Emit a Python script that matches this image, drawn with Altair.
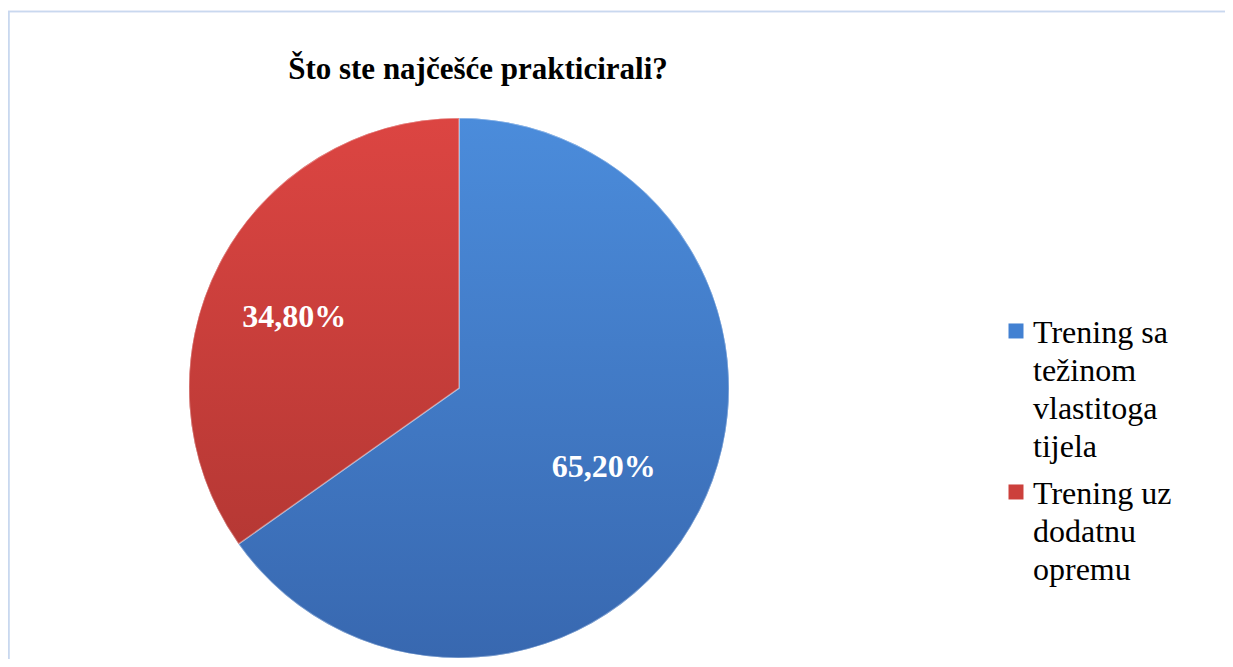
import altair as alt
import pandas as pd

categories = ["Trening sa težinom vlastitoga tijela", "Trening uz dodatnu opremu"]
values = [65.2, 34.8]
colors = ["#4281D2", "#CC403C"]
grad_top = ["#4B8CDB", "#DC4542"]
grad_bot = ["#3868B0", "#B63834"]
title_text = "Što ste najčešće prakticirali?"
SERIF = "Liberation Serif, Times New Roman, serif"

df = pd.DataFrame({"kat": categories, "vrijednost": values, "order": [0, 1]})

W, H = 1217, 651
CX, CY, R = 451, 380, 270

base = alt.Chart(df).transform_joinaggregate(
    total="sum(vrijednost)"
).transform_window(
    cum="sum(vrijednost)", sort=[alt.SortField("order")]
).transform_calculate(
    t1="datum.cum / datum.total * 2 * PI",
    t0="(datum.cum - datum.vrijednost) / datum.total * 2 * PI",
    tm="(datum.cum - datum.vrijednost / 2) / datum.total * 2 * PI - 0.026",
    lbl="replace(format(datum.vrijednost / 100, '.2%'), '.', ',')",
)

label_expr = ("datum.label == 'Trening sa težinom vlastitoga tijela' ? "
              "['Trening sa','težinom','vlastitoga','tijela'] : "
              "['Trening uz','dodatnu','opremu']")

color_enc = alt.Color(
    "kat:N",
    scale=alt.Scale(domain=categories, range=colors),
    sort=categories,
    legend=alt.Legend(
        title=None,
        orient="none",
        legendX=992,
        legendY=294,
        symbolType="M-1,0.73L1,0.73L1,2.73L-1,2.73Z",
        symbolSize=225,
        symbolStrokeWidth=0,
        labelFont=SERIF,
        labelFontSize=32,
        labelColor="#000000",
        labelLimit=400,
        labelBaseline="top",
        labelOffset=1,
        labelExpr=label_expr,
        rowPadding=-4,
    ),
)

pie_base = base.mark_arc(radius=R, x=CX, y=CY).encode(
    theta=alt.Theta("t0:Q", scale=None),
    theta2="t1:Q",
    color=color_enc,
    order=alt.Order("order:Q"),
)

grad_layers = []
for i, c in enumerate(categories):
    grad_layers.append(
        base.transform_filter(alt.datum.kat == c).mark_arc(
            radius=R, x=CX, y=CY,
            fill={"gradient": "linear", "x1": 0, "y1": 0, "x2": 0, "y2": 1,
                  "stops": [{"offset": 0, "color": grad_top[i]},
                            {"offset": 1, "color": grad_bot[i]}]},
            stroke="#ffffff", strokeOpacity=0.35, strokeWidth=1.5,
        ).encode(
            theta=alt.Theta("t0:Q", scale=None),
            theta2="t1:Q",
        )
    )

labels = base.mark_text(
    radius=172, x=CX, y=CY, dx=-10, dy=4, font=SERIF, fontSize=32,
    fontWeight="bold", color="white", align="center", baseline="middle",
).encode(
    theta=alt.Theta("tm:Q", scale=None),
    text="lbl:N",
)

border_top = alt.Chart(df).mark_rule(color="#C9D8EF", strokeWidth=1.5).encode(
    x=alt.value(0), x2=alt.value(W), y=alt.value(3.5)
)
border_left = alt.Chart(df).mark_rule(color="#C9D8EF", strokeWidth=1.5).encode(
    x=alt.value(0.8), y=alt.value(3), y2=alt.value(H)
)

layered = alt.layer(
    border_top, border_left, pie_base, *grad_layers, labels
).properties(
    width=W, height=H,
    autosize=alt.AutoSizeParams(type="none"),
    padding=0,
    title=alt.Title(
        title_text, font=SERIF, fontSize=31, fontWeight="bold",
        color="#000000", anchor="start", align="center", dx=470,
        offset=-78, frame="group",
    ),
)

try:
    chart = layered.configure(
        style={"guide-label": {"lineHeight": 38}}
    ).configure_view(stroke=None).configure_title(font=SERIF)
    chart.to_dict()
except Exception:
    chart = layered.configure_view(stroke=None).configure_title(font=SERIF)

chart.save("out.html", embed_options={"renderer": "svg", "actions": False})
